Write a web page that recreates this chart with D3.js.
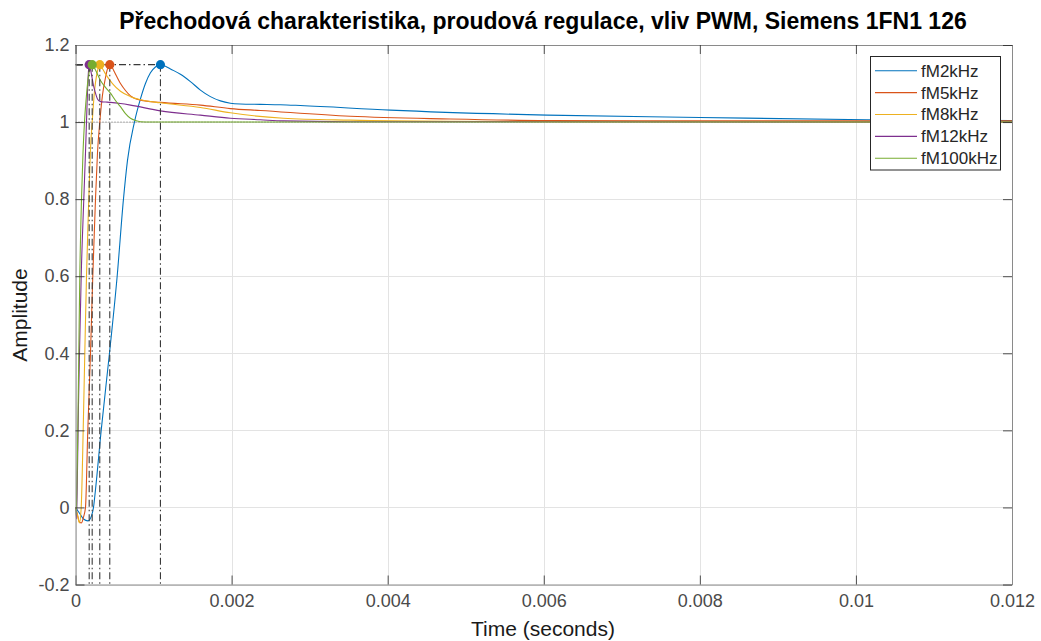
<!DOCTYPE html>
<html>
<head>
<meta charset="utf-8">
<script src="https://cdn.jsdelivr.net/npm/d3@7"></script>
<style>
  html, body { margin: 0; padding: 0; background: #ffffff; }
  svg { display: block; font-family: "Liberation Sans", Arial, Helvetica, sans-serif; }
</style>
</head>
<body>
<svg id="chart" width="1041" height="641"></svg>
<script>
// Step response data, current control loop, for several PWM frequencies
const seriesNames = ["fM2kHz", "fM5kHz", "fM8kHz", "fM12kHz", "fM100kHz"];
const seriesColors = ["#0072BD", "#D95319", "#EDB120", "#7E2F8E", "#77AC30"];

const time2k = [0, 0.0512e-3, 0.1024e-3, 0.1601e-3, 0.2049e-3, 0.2305e-3, 0.2561e-3, 0.3291e-3, 0.4353e-3, 0.5339e-3, 0.6146e-3, 0.6658e-3, 0.7554e-3, 0.8323e-3, 0.8963e-3, 0.9603e-3, 1.0243e-3, 1.0883e-3, 1.1524e-3, 1.2164e-3, 1.3444e-3, 1.4725e-3, 1.6005e-3, 1.7286e-3, 1.8566e-3, 1.9846e-3, 2.1127e-3, 2.3688e-3, 2.6248e-3, 2.8809e-3, 4.0333e-3, 6.0435e-3, 8.0026e-3, 10.1408e-3, 12.0e-3];
const amp2k  = [0, -0.015, -0.03, -0.035, -0.022, 0, 0.046, 0.2, 0.4, 0.6, 0.8, 0.9, 1.0, 1.06, 1.1, 1.128, 1.143, 1.149, 1.145, 1.138, 1.124, 1.105, 1.083, 1.066, 1.055, 1.049, 1.047, 1.046, 1.045, 1.043, 1.031, 1.018, 1.012, 1.006, 1.004];

const time5k = [0, 0.0256e-3, 0.0512e-3, 0.0768e-3, 0.1024e-3, 0.1280e-3, 0.1575e-3, 0.1921e-3, 0.2215e-3, 0.2561e-3, 0.2817e-3, 0.3111e-3, 0.3457e-3, 0.3841e-3, 0.4097e-3, 0.4392e-3, 0.4609e-3, 0.4994e-3, 0.5762e-3, 0.6402e-3, 0.7042e-3, 0.8323e-3, 1.0883e-3, 1.6005e-3, 1.9846e-3, 2.3688e-3, 3.5211e-3, 4.8015e-3, 6.0435e-3, 8.0026e-3, 12.0e-3];
const amp5k  = [0, -0.02, -0.038, -0.04, -0.025, 0, 0.2, 0.4, 0.6, 0.8, 0.92, 1.0, 1.07, 1.115, 1.138, 1.149, 1.145, 1.13, 1.10, 1.082, 1.068, 1.057, 1.051, 1.044, 1.035, 1.03, 1.015, 1.008, 1.004, 1.003, 1.003];

const time8k = [0, 0.0256e-3, 0.0512e-3, 0.0730e-3, 0.0986e-3, 0.1191e-3, 0.1408e-3, 0.1703e-3, 0.1921e-3, 0.2138e-3, 0.2433e-3, 0.2689e-3, 0.2945e-3, 0.3111e-3, 0.3329e-3, 0.3841e-3, 0.4738e-3, 0.5762e-3, 0.7042e-3, 0.8323e-3, 1.0883e-3, 1.6005e-3, 1.9846e-3, 2.6633e-3, 3.5211e-3, 4.8015e-3, 6.7222e-3, 12.0e-3];
const amp8k  = [0, -0.02, -0.04, 0, 0.2, 0.4, 0.6, 0.8, 0.93, 1.0, 1.08, 1.12, 1.142, 1.149, 1.143, 1.125, 1.1, 1.08, 1.066, 1.058, 1.05, 1.038, 1.024, 1.01, 1.005, 1.002, 1.001, 1.0005];

const time12k = [0, 0.0128e-3, 0.0256e-3, 0.0384e-3, 0.0512e-3, 0.0730e-3, 0.1063e-3, 0.1280e-3, 0.1472e-3, 0.1626e-3, 0.1754e-3, 0.1985e-3, 0.2305e-3, 0.2561e-3, 0.2817e-3, 0.3201e-3, 0.3841e-3, 0.4481e-3, 0.5762e-3, 0.7042e-3, 1.0883e-3, 1.6005e-3, 1.9846e-3, 2.3688e-3, 2.6633e-3, 3.5211e-3, 12.0e-3];
const amp12k  = [0, -0.03, 0.1, 0.27, 0.4, 0.6, 0.8, 0.92, 1.04, 1.12, 1.149, 1.13, 1.095, 1.075, 1.06, 1.053, 1.052, 1.051, 1.048, 1.044, 1.029, 1.018, 1.01, 1.006, 1.003, 1.001, 1.0];

const time100k = [0, 0.0064e-3, 0.0128e-3, 0.0294e-3, 0.0423e-3, 0.0551e-3, 0.0768e-3, 0.0960e-3, 0.1152e-3, 0.1408e-3, 0.1665e-3, 0.1921e-3, 0.2138e-3, 0.2305e-3, 0.2561e-3, 0.3201e-3, 0.3841e-3, 0.4481e-3, 0.5122e-3, 0.5762e-3, 0.6402e-3, 0.7042e-3, 0.7682e-3, 0.8323e-3, 0.9603e-3, 12.0e-3];
const amp100k  = [0, -0.02, 0.0, 0.2, 0.4, 0.6, 0.8, 0.92, 1.0, 1.07, 1.12, 1.143, 1.149, 1.146, 1.135, 1.108, 1.09, 1.075, 1.056, 1.04, 1.022, 1.01, 1.004, 1.001, 1.0, 1.0];

// Peak response of each series (time, amplitude)
const peakTime = [1.0883e-3, 0.4392e-3, 0.3111e-3, 0.1754e-3, 0.2138e-3];
const peakAmp  = [1.149, 1.149, 1.149, 1.149, 1.149];
const steadyState = 1.0;

const xTickValues = [0, 0.002, 0.004, 0.006, 0.008, 0.01, 0.012];
const xTickLabels = ["0", "0.002", "0.004", "0.006", "0.008", "0.01", "0.012"];
const yTickValues = [-0.2, 0, 0.2, 0.4, 0.6, 0.8, 1, 1.2];
const yTickLabels = ["-0.2", "0", "0.2", "0.4", "0.6", "0.8", "1", "1.2"];

const seriesTime = [time2k, time5k, time8k, time12k, time100k];
const seriesAmp = [amp2k, amp5k, amp8k, amp12k, amp100k];

// Layout
const svg = d3.select("#chart");
const plot = { left: 75.5, top: 45, right: 1012, bottom: 584.5 };
const x = d3.scaleLinear().domain([0, 0.012]).range([plot.left, plot.right]);
const y = d3.scaleLinear().domain([-0.2, 1.2]).range([plot.bottom, plot.top]);

const axisColor = "#262626";

svg.append("rect")
  .attr("x", plot.left).attr("y", plot.top)
  .attr("width", plot.right - plot.left).attr("height", plot.bottom - plot.top)
  .attr("fill", "#ffffff");

// Grid
const grid = svg.append("g").attr("stroke", "#e3e3e3").attr("stroke-width", 1);
grid.selectAll("line.gx").data(xTickValues).join("line")
  .attr("x1", d => Math.round(x(d)) + 0.5).attr("x2", d => Math.round(x(d)) + 0.5)
  .attr("y1", plot.top).attr("y2", plot.bottom);
grid.selectAll("line.gy").data(yTickValues).join("line")
  .attr("y1", d => Math.round(y(d)) + 0.5).attr("y2", d => Math.round(y(d)) + 0.5)
  .attr("x1", plot.left).attr("x2", plot.right);

svg.append("defs").append("clipPath").attr("id", "plotClip")
  .append("rect")
  .attr("x", plot.left).attr("y", plot.top)
  .attr("width", plot.right - plot.left).attr("height", plot.bottom - plot.top);

const content = svg.append("g").attr("clip-path", "url(#plotClip)");

// Steady-state reference
content.append("line")
  .attr("x1", x(0)).attr("x2", x(0.012))
  .attr("y1", y(steadyState)).attr("y2", y(steadyState))
  .attr("stroke", "#707070").attr("stroke-width", 1)
  .attr("stroke-dasharray", "1,2");

// Response curves
const line = d3.line().curve(d3.curveMonotoneX)
  .x(d => x(d[0])).y(d => y(d[1]));

seriesNames.forEach((name, i) => {
  const pts = seriesTime[i].map((t, k) => [t, seriesAmp[i][k]]);
  content.append("path")
    .datum(pts)
    .attr("fill", "none")
    .attr("stroke", seriesColors[i])
    .attr("stroke-width", 1.1)
    .attr("d", line);
});

// Peak response guides
const guideDash = "7,3,1.5,3";
seriesNames.forEach((name, i) => {
  content.append("line")
    .attr("x1", x(peakTime[i])).attr("x2", x(peakTime[i]))
    .attr("y1", y(peakAmp[i])).attr("y2", plot.bottom)
    .attr("stroke", "#3a3a3a").attr("stroke-width", 1.1)
    .attr("stroke-dasharray", guideDash);
  content.append("line")
    .attr("x1", plot.left).attr("x2", x(peakTime[i]))
    .attr("y1", y(peakAmp[i])).attr("y2", y(peakAmp[i]))
    .attr("stroke", "#3a3a3a").attr("stroke-width", 1.1)
    .attr("stroke-dasharray", guideDash);
});

// Peak markers
seriesNames.forEach((name, i) => {
  content.append("circle")
    .attr("cx", x(peakTime[i])).attr("cy", y(peakAmp[i]))
    .attr("r", 4.6)
    .attr("fill", seriesColors[i]);
});

// Axes
const fmtX = (d, i) => xTickLabels[i];
const fmtY = (d, i) => yTickLabels[i];
const tickLen = 9;

const gBottom = svg.append("g").attr("transform", `translate(0,${plot.bottom})`)
  .call(d3.axisBottom(x).tickValues(xTickValues).tickFormat(fmtX)
    .tickSizeInner(-tickLen).tickSizeOuter(0).tickPadding(10));
const gLeft = svg.append("g").attr("transform", `translate(${plot.left},0)`)
  .call(d3.axisLeft(y).tickValues(yTickValues).tickFormat(fmtY)
    .tickSizeInner(-tickLen).tickSizeOuter(0).tickPadding(6));
const gTop = svg.append("g").attr("transform", `translate(0,${plot.top})`)
  .call(d3.axisTop(x).tickValues(xTickValues).tickFormat("")
    .tickSizeInner(-tickLen).tickSizeOuter(0));
const gRight = svg.append("g").attr("transform", `translate(${plot.right},0)`)
  .call(d3.axisRight(y).tickValues(yTickValues).tickFormat("")
    .tickSizeInner(-tickLen).tickSizeOuter(0));

[gBottom, gLeft, gTop, gRight].forEach(g => {
  g.select(".domain").attr("stroke", "#8a8a8a").attr("stroke-width", 1);
  g.selectAll(".tick line").attr("stroke", axisColor).attr("stroke-width", 0.8);
  g.selectAll(".tick text")
    .attr("fill", "#4a4a4a")
    .style("font-size", "18px")
    .style("font-family", "'Liberation Sans', Arial, sans-serif");
});

// Titles
svg.append("text")
  .attr("x", 543).attr("y", 29)
  .attr("text-anchor", "middle")
  .style("font-size", "23px").style("font-weight", "bold")
  .attr("fill", "#000000")
  .text("Přechodová charakteristika, proudová regulace, vliv PWM, Siemens 1FN1 126");

svg.append("text")
  .attr("x", 543).attr("y", 636)
  .attr("text-anchor", "middle")
  .style("font-size", "21px")
  .attr("fill", "#1a1a1a")
  .text("Time (seconds)");

svg.append("text")
  .attr("transform", "translate(27,315) rotate(-90)")
  .attr("text-anchor", "middle")
  .style("font-size", "21px")
  .attr("fill", "#1a1a1a")
  .text("Amplitude");

// Legend
const legend = svg.append("g");
legend.append("rect")
  .attr("x", 870.5).attr("y", 56.5)
  .attr("width", 130).attr("height", 113.5)
  .attr("fill", "#ffffff").attr("stroke", axisColor).attr("stroke-width", 1);
seriesNames.forEach((name, i) => {
  const yy = 70.7 + i * 21.9;
  legend.append("line")
    .attr("x1", 875).attr("x2", 917)
    .attr("y1", yy).attr("y2", yy)
    .attr("stroke", seriesColors[i]).attr("stroke-width", 1.1);
  legend.append("text")
    .attr("x", 921).attr("y", yy)
    .attr("dy", "0.35em")
    .style("font-size", "17px")
    .attr("fill", "#262626")
    .text(name);
});
</script>
</body>
</html>
